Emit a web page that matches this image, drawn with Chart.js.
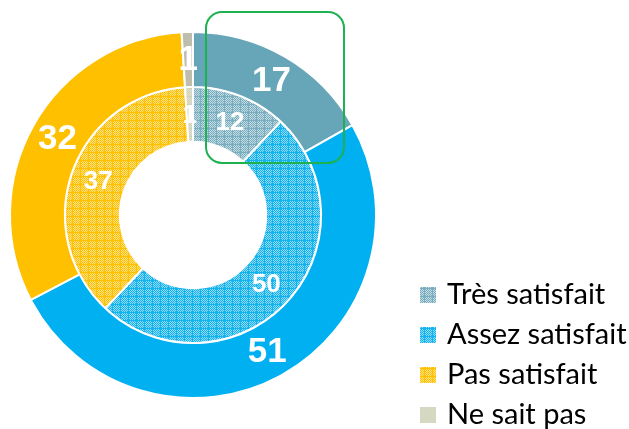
<!DOCTYPE html>
<html>
<head>
<meta charset="utf-8">
<script src="https://cdn.jsdelivr.net/npm/chart.js@4.4.1/dist/chart.umd.min.js"></script>
<style>
  html, body { margin: 0; padding: 0; background: #fff; }
  #wrap { width: 629px; height: 429px; position: relative; }
</style>
</head>
<body>
<div id="wrap"><canvas id="chart"></canvas></div>
<script>
// categories and values
const categories = ['Très satisfait', 'Assez satisfait', 'Pas satisfait', 'Ne sait pas'];
const outerValues = [17, 51, 32, 1];
const innerValues = [12, 50, 37, 1];

const outerColors = ['#66A6B8', '#00B0F0', '#FFC000', '#BFBDAE'];
const patternBase = ['#7AAEBF', '#12B3EE', '#FFC000', '#CFD1BB'];
const patternLight = ['#C3DCE4', '#94DAF6', '#FFE28E', '#E0E1D0'];

// small grid pattern like the excel fill
function makePattern(base, light) {
    let c = document.createElement('canvas');
    c.width = 8;
    c.height = 8;
    let g = c.getContext('2d');
    g.fillStyle = light;
    g.fillRect(0, 0, 8, 8);
    g.fillStyle = base;
    for (let y = 0; y < 8; y++) {
        for (let x = 0; x < 8; x++) {
            if (x == 0 || y == 0 || (x + y) % 2 == 0) {
                g.fillRect(x, y, 1, 1);
            }
        }
    }
    return g.createPattern(c, 'repeat');
}

const innerFills = patternBase.map((b, i) => makePattern(b, patternLight[i]));
const legendFills = [innerFills[0], innerFills[1], innerFills[2], '#D6D9C2'];

const valueLabels = {
    id: 'valueLabels',
    afterDatasetsDraw(chart) {
        let ctx = chart.ctx;
        ctx.save();
        ctx.fillStyle = '#fff';
        ctx.textAlign = 'center';
        ctx.textBaseline = 'middle';
        chart.data.datasets.forEach((ds, di) => {
            let meta = chart.getDatasetMeta(di);
            ctx.font = di == 0 ? 'bold 35px "Liberation Sans", Arial' : 'bold 26px "Liberation Sans", Arial';
            meta.data.forEach((arc, i) => {
                let p = arc.tooltipPosition();
                ctx.fillText(String(ds.data[i]), p.x, p.y + 1);
            });
        });
        ctx.restore();
    }
};

const sideLegend = {
    id: 'sideLegend',
    afterDraw(chart) {
        let ctx = chart.ctx;
        ctx.save();
        ctx.font = '29px Lato, "Open Sans", sans-serif';
        ctx.textBaseline = 'middle';
        ctx.fillStyle = '#000';
        categories.forEach((label, i) => {
            let y = 295 + i * 40;
            ctx.fillStyle = legendFills[i];
            ctx.fillRect(420, y - 8, 16, 16);
            ctx.fillStyle = '#000';
            ctx.fillText(label, 447, y);
        });
        // green highlight box
        ctx.strokeStyle = '#1DB150';
        ctx.lineWidth = 2;
        ctx.beginPath();
        ctx.roundRect(206, 12, 138, 151, 16);
        ctx.stroke();
        ctx.restore();
    }
};

new Chart(document.getElementById('chart'), {
    type: 'doughnut',
    data: {
        labels: categories,
        datasets: [
            {
                data: outerValues,
                backgroundColor: outerColors,
                borderColor: '#fff',
                borderWidth: 2
            },
            {
                data: innerValues,
                backgroundColor: innerFills,
                borderColor: '#fff',
                borderWidth: 2
            }
        ]
    },
    options: {
        responsive: true,
        maintainAspectRatio: false,
        animation: false,
        cutout: '40%',
        layout: {
            padding: { top: 31, bottom: 30, left: 9, right: 252 }
        },
        plugins: {
            legend: { display: false },
            tooltip: { enabled: false }
        }
    },
    plugins: [valueLabels, sideLegend]
});
</script>
</body>
</html>
